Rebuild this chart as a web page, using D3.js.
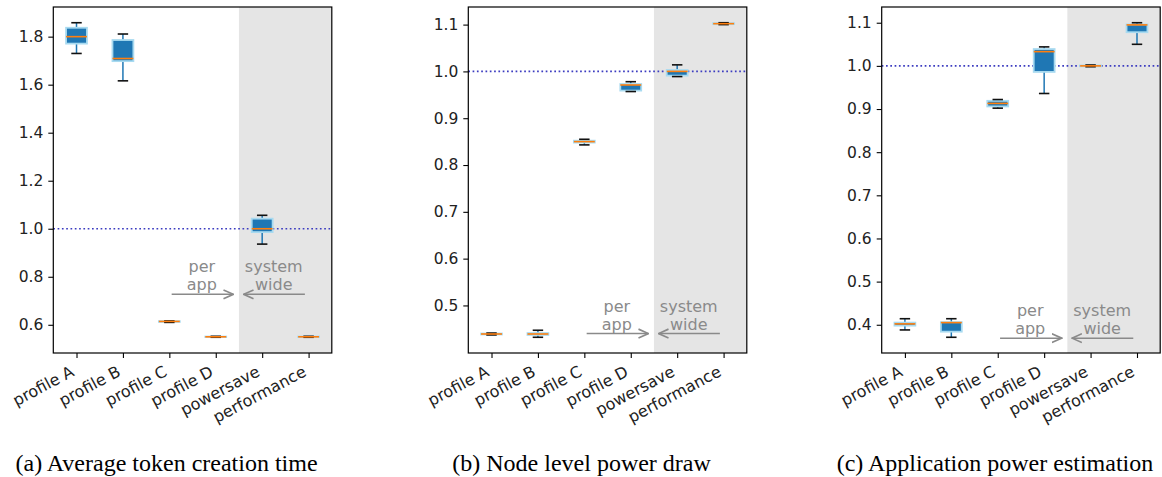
<!DOCTYPE html>
<html>
<head>
<meta charset="utf-8">
<script src="https://cdn.jsdelivr.net/npm/d3@7"></script>
<style>
  body { margin: 0; background: #fff; }
  svg text { font-family: "DejaVu Sans", sans-serif; }
</style>
</head>
<body>
<svg id="chart" width="1162" height="477"></svg>
<script>
// categories shared by all three panels
const categories = ["profile A", "profile B", "profile C", "profile D", "powersave", "performance"];

// box stats per category: [whisker low, q1, median, q3, whisker high]
const tokenTime = [
  [1.730, 1.771, 1.800, 1.837, 1.858],
  [1.616, 1.698, 1.709, 1.786, 1.811],
  [0.610, 0.612, 0.614, 0.615, 0.616],
  [0.548, 0.549, 0.550, 0.551, 0.552],
  [0.936, 0.986, 1.000, 1.042, 1.056],
  [0.548, 0.549, 0.550, 0.551, 0.552]
];
const nodePower = [
  [0.437, 0.438, 0.439, 0.440, 0.441],
  [0.432, 0.437, 0.439, 0.441, 0.447],
  [0.843, 0.848, 0.850, 0.852, 0.855],
  [0.957, 0.959, 0.971, 0.973, 0.978],
  [0.989, 0.991, 1.000, 1.003, 1.014],
  [1.100, 1.101, 1.102, 1.103, 1.104]
];
const appPower = [
  [0.388, 0.398, 0.402, 0.405, 0.414],
  [0.371, 0.384, 0.405, 0.406, 0.414],
  [0.902, 0.906, 0.913, 0.919, 0.922],
  [0.936, 0.986, 1.033, 1.039, 1.044],
  [0.998, 0.999, 1.000, 1.001, 1.002],
  [1.050, 1.078, 1.095, 1.096, 1.100]
];

const tickValuesA = [0.6, 0.8, 1.0, 1.2, 1.4, 1.6, 1.8];
const tickValuesB = [0.5, 0.6, 0.7, 0.8, 0.9, 1.0, 1.1];
const tickValuesC = [0.4, 0.5, 0.6, 0.7, 0.8, 0.9, 1.0, 1.1];

const captions = ["(a) Average token creation time", "(b) Node level power draw", "(c) Application power estimation"];
// height of the "per app" / "system wide" arrows in each panel
const arrowLevels = [0.727, 0.440, 0.369];

const panels = [
  { data: tokenTime, ticks: tickValuesA, fmt: d3.format(".1f"), left: 53.3 },
  { data: nodePower, ticks: tickValuesB, fmt: d3.format(".1f"), left: 468.3 },
  { data: appPower, ticks: tickValuesC, fmt: d3.format(".1f"), left: 881.7 }
];

const svg = d3.select("#chart");
const axW = 278.5, axTop = 7, axBottom = 353;
const fs = 16;
const angle = 28;
const gray = "#8a8a8a";

// arrow head marker
const defs = svg.append("defs");
defs.append("marker")
  .attr("id", "head")
  .attr("viewBox", "0 0 10 10")
  .attr("refX", 9).attr("refY", 5)
  .attr("markerWidth", 11).attr("markerHeight", 11)
  .attr("markerUnits", "userSpaceOnUse")
  .attr("orient", "auto")
  .append("path")
  .attr("d", "M0,1 L9,5 L0,9")
  .attr("fill", "none")
  .attr("stroke", gray)
  .attr("stroke-width", 1.5);

panels.forEach(function (p, pi) {
  const g = svg.append("g");
  const lo = d3.min(p.data, d => d[0]);
  const hi = d3.max(p.data, d => d[4]);
  const pad = (hi - lo) * 0.05;

  const y = d3.scaleLinear().domain([lo - pad, hi + pad]).range([axBottom, axTop]);
  const x = d3.scaleLinear().domain([0.5, 6.5]).range([p.left, p.left + axW]);

  // shaded "system wide" region
  g.append("rect")
    .attr("x", x(4.5)).attr("y", axTop)
    .attr("width", x(6.5) - x(4.5)).attr("height", axBottom - axTop)
    .attr("fill", "#e5e5e5");

  // reference line at 1.0
  g.append("line")
    .attr("x1", x(0.5)).attr("x2", x(6.5))
    .attr("y1", y(1.0)).attr("y2", y(1.0))
    .attr("stroke", "#3c3cc0")
    .attr("stroke-width", 1.7)
    .attr("stroke-dasharray", "1.7,2.6");

  // annotations
  const ay = y(arrowLevels[pi]);
  g.append("line")
    .attr("x1", x(3.05)).attr("x2", x(4.38))
    .attr("y1", ay).attr("y2", ay)
    .attr("stroke", gray).attr("stroke-width", 1.5)
    .attr("marker-end", "url(#head)");
  g.append("line")
    .attr("x1", x(5.92)).attr("x2", x(4.6))
    .attr("y1", ay).attr("y2", ay)
    .attr("stroke", gray).attr("stroke-width", 1.5)
    .attr("marker-end", "url(#head)");
  [["per", "app", 3.7], ["system", "wide", 5.25]].forEach(function (t) {
    const txt = g.append("text")
      .attr("x", x(t[2]))
      .attr("text-anchor", "middle")
      .attr("fill", gray)
      .style("font-size", "16px");
    txt.append("tspan").attr("x", x(t[2])).attr("y", ay - 22).text(t[0]);
    txt.append("tspan").attr("x", x(t[2])).attr("y", ay - 4).text(t[1]);
  });

  // boxes
  const bw = x(1.45) - x(1);
  const box = g.selectAll("g.box")
    .data(p.data)
    .enter().append("g")
    .attr("class", "box")
    .attr("transform", (d, i) => "translate(" + x(i + 1) + ",0)");

  box.append("line")
    .attr("x1", 0).attr("x2", 0)
    .attr("y1", d => y(d[0])).attr("y2", d => y(d[1]))
    .attr("stroke", "#1f77b4").attr("stroke-width", 1.5);
  box.append("line")
    .attr("x1", 0).attr("x2", 0)
    .attr("y1", d => y(d[3])).attr("y2", d => y(d[4]))
    .attr("stroke", "#1f77b4").attr("stroke-width", 1.5);
  box.append("rect")
    .attr("x", -bw / 2).attr("width", bw)
    .attr("y", d => y(d[3]))
    .attr("height", d => Math.max(0.5, y(d[1]) - y(d[3])))
    .attr("fill", "#1f77b4")
    .attr("stroke", "#a8daf0")
    .attr("stroke-width", 1.8);
  box.selectAll("line.cap")
    .data(d => [d[0], d[4]])
    .enter().append("line")
    .attr("class", "cap")
    .attr("x1", -bw / 4).attr("x2", bw / 4)
    .attr("y1", d => y(d)).attr("y2", d => y(d))
    .attr("stroke", "#111").attr("stroke-width", 1.6);
  box.append("line")
    .attr("x1", -bw / 2).attr("x2", bw / 2)
    .attr("y1", d => y(d[2])).attr("y2", d => y(d[2]))
    .attr("stroke", "#ff7f0e").attr("stroke-width", 1.6);

  // axes frame
  g.append("rect")
    .attr("x", x(0.5)).attr("y", axTop)
    .attr("width", axW).attr("height", axBottom - axTop)
    .attr("fill", "none").attr("stroke", "#000").attr("stroke-width", 1.2);

  // y axis
  const yAxis = g.append("g")
    .attr("transform", "translate(" + x(0.5) + ",0)")
    .call(d3.axisLeft(y).tickValues(p.ticks).tickFormat(p.fmt).tickSize(5).tickPadding(5));
  yAxis.select(".domain").remove();
  yAxis.selectAll("line").attr("stroke-width", 1.1);
  yAxis.selectAll("text").style("font-size", "15.5px").attr("fill", "#222");

  // x axis with rotated labels
  const xAxis = g.append("g")
    .attr("transform", "translate(0," + axBottom + ")")
    .call(d3.axisBottom(x).tickValues([1, 2, 3, 4, 5, 6]).tickFormat((d, i) => categories[i]).tickSize(5));
  xAxis.select(".domain").remove();
  xAxis.selectAll("line").attr("stroke-width", 1.1);
  xAxis.selectAll("text")
    .style("font-size", fs + "px")
    .attr("fill", "#222")
    .attr("text-anchor", "end")
    .attr("dy", null)
    .attr("y", 0)
    .attr("transform", "translate(" + (-0.11 * fs) + "," + (9 + 0.82 * fs) + ") rotate(" + (-angle) + ")");

  // caption
  svg.append("text")
    .attr("x", x(3.5) - 26)
    .attr("y", 471)
    .attr("text-anchor", "middle")
    .style("font-family", "'Liberation Serif', 'Times New Roman', serif")
    .style("font-size", "24px")
    .attr("fill", "#000")
    .text(captions[pi]);
});
</script>
</body>
</html>
